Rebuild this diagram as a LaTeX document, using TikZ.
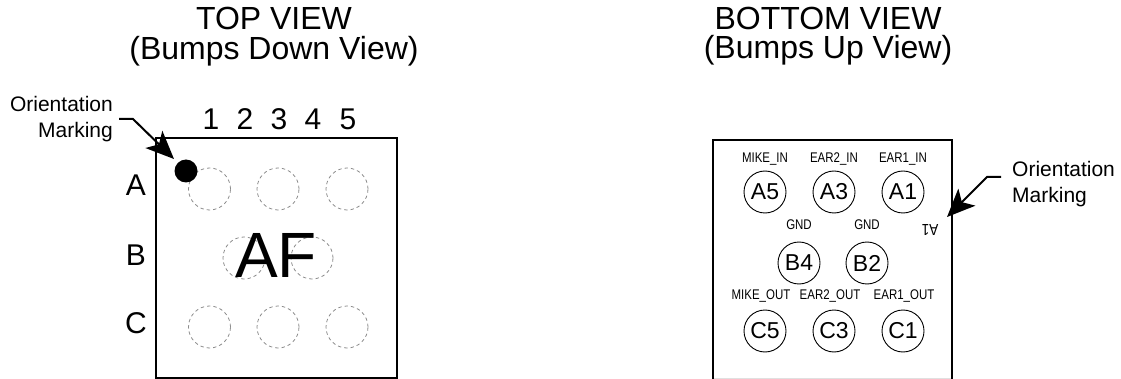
\documentclass[tikz,border=0pt]{standalone}
\usepackage{fontspec}
\setmainfont{Liberation Sans}
\usetikzlibrary{arrows.meta}
\tikzset{
  x=1pt,y=-1pt,
  pkg/.style={draw=black,line width=1.6pt},
  ghost/.style={circle,draw=black!45,dashed,dash pattern=on 3.4pt off 3pt,line width=.8pt,minimum size=42pt,inner sep=0},
  bump/.style={circle,draw=black,line width=.9pt,minimum size=42pt,inner sep=0,font=\fontsize{23}{23}\selectfont},
  title/.style={align=center,font=\fontsize{32}{29.5}\selectfont,inner sep=0},
  note/.style={font=\fontsize{21}{26}\selectfont,inner sep=0},
  idx/.style={font=\fontsize{30}{30}\selectfont,inner sep=0},
  pin/.style={font=\fontsize{14}{14}\selectfont,inner sep=0,xscale=.82},
  callout/.style={line width=2pt,-{Stealth[length=28pt,width=24pt,inset=7pt]}}
}
\begin{document}
\begin{tikzpicture}
\useasboundingbox (0,0) rectangle (1121,379);
\node[title] (t1) at (274,36.5) {TOP VIEW\\(Bumps Down View)};
\node[title] (t2) at (828,36) {BOTTOM VIEW\\(Bumps Up View)};
% left package
\draw[pkg] (156,138) rectangle (397,378);
\foreach \n/\x/\y in {a1/209.5/189,a2/278/189,a3/347/189,b1/244/258,b2/312/258,c1/209.5/327,c2/278/327,c3/347/327}
  \node[ghost] (g\n) at (\x,\y) {};
\node[circle,fill=black,minimum size=23pt,inner sep=0] (dot) at (186,171) {};
\node[inner sep=0,font=\fontsize{64}{64}\selectfont] (af) at (276,255) {AF};
\foreach \t/\x in {1/211,2/245,3/279,4/313,5/348}
  \node[idx] (col\t) at (\x,119) {\t};
\foreach \t/\y in {A/185,B/255,C/323}
  \node[idx] (row\t) at (136,\y) {\t};
\node[note,align=right,anchor=east] (om1) at (113,119) {Orientation\\Marking};
\coordinate (s1) at (119,119);
\coordinate (b1) at (133,119);
\coordinate (e1) at (174,159);
\draw[callout] (s1) -- (b1) -- (e1);
% right package
\draw[black!12,line width=1pt] (713,378) -- (952,378);
\draw[pkg] (713,379) -- (713,140) -- (952,140) -- (952,379);
\foreach \t/\x/\y in {A5/765/192,A3/834/192,A1/903/192,B4/799/263,B2/867/263,C5/765/331,C3/834/331,C1/903/331}
  \node[bump] (p\t) at (\x,\y) {\t};
\foreach \t/\x/\y in {MIKE\_IN/765/159,EAR2\_IN/834/159,EAR1\_IN/903/159,GND/799/225,GND/867/225,MIKE\_OUT/761/296,EAR2\_OUT/830/296,EAR1\_OUT/904/296}
  \node[pin] at (\x,\y) {\t};
\node[inner sep=0,rotate=180,xscale=.85,font=\fontsize{16}{16}\selectfont] (a1mark) at (930,230) {A1};
\node[note,align=left,anchor=west] (om2) at (1012,184) {Orientation\\Marking};
\coordinate (s2) at (1001,177);
\coordinate (b2) at (987,177);
\coordinate (e2) at (947,217);
\draw[callout] (s2) -- (b2) -- (e2);
\end{tikzpicture}
\end{document}
